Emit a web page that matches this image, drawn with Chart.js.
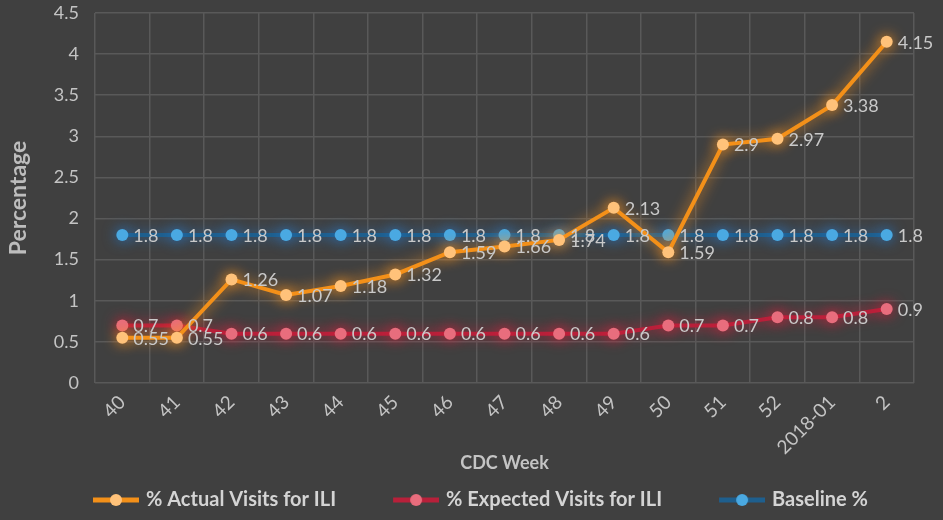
<!DOCTYPE html>
<html>
<head>
<meta charset="utf-8">
<script src="https://cdn.jsdelivr.net/npm/chart.js@4"></script>
<style>
  html, body { margin: 0; padding: 0; background: #404040; }
  #wrap { width: 943px; height: 520px; }
</style>
</head>
<body>
<div id="wrap"><canvas id="myChart"></canvas></div>
<script>
var weeks = ["40", "41", "42", "43", "44", "45", "46", "47", "48", "49", "50", "51", "52", "2018-01", "2"];
var actualVisits = [0.55, 0.55, 1.26, 1.07, 1.18, 1.32, 1.59, 1.66, 1.74, 2.13, 1.59, 2.9, 2.97, 3.38, 4.15];
var expectedVisits = [0.7, 0.7, 0.6, 0.6, 0.6, 0.6, 0.6, 0.6, 0.6, 0.6, 0.7, 0.7, 0.8, 0.8, 0.9];
var baseline = [1.8, 1.8, 1.8, 1.8, 1.8, 1.8, 1.8, 1.8, 1.8, 1.8, 1.8, 1.8, 1.8, 1.8, 1.8];

var fam = "Lato, 'Liberation Sans', sans-serif";
var textGray = "#c9c9c9";

// legend symbol: blank lead + line with a dot
function legendIcon(lineColor, dotColor){
  var c = document.createElement("canvas");
  c.width = 96; c.height = 20;
  var g = c.getContext("2d");
  g.strokeStyle = lineColor;
  g.lineWidth = 5;
  g.beginPath(); g.moveTo(50, 10); g.lineTo(96, 10); g.stroke();
  g.fillStyle = dotColor;
  g.beginPath(); g.arc(73, 10, 6, 0, Math.PI * 2); g.fill();
  return c;
}
var icons = [
  legendIcon("#f39019", "#ffc27a"),
  legendIcon("#b8203a", "#e86d7d"),
  legendIcon("#1e5f8e", "#4aa9e2")
];

var glowPlugin = {
  id: "glow",
  beforeDatasetDraw: function(chart, args){
    var ctx = chart.ctx;
    ctx.save();
    ctx.shadowColor = chart.data.datasets[args.index].glow;
    ctx.shadowBlur = 14;
  },
  afterDatasetDraw: function(chart){
    chart.ctx.restore();
  }
};

var valueLabels = {
  id: "valueLabels",
  afterDatasetsDraw: function(chart){
    var ctx = chart.ctx;
    ctx.save();
    ctx.font = "18px " + fam;
    ctx.fillStyle = textGray;
    ctx.textAlign = "left";
    ctx.textBaseline = "middle";
    chart.data.datasets.forEach(function(ds, i){
      var meta = chart.getDatasetMeta(i);
      meta.data.forEach(function(pt, j){
        ctx.fillText(String(ds.data[j]), pt.x + 11, pt.y + 1);
      });
    });
    ctx.restore();
  }
};

var ctx = document.getElementById("myChart").getContext("2d");
var myChart = new Chart(ctx, {
  type: "line",
  data: {
    labels: weeks,
    datasets: [{
      label: "% Actual Visits for ILI",
      data: actualVisits,
      borderColor: "#f39019",
      backgroundColor: "#ffc27a",
      pointBackgroundColor: "#ffc27a",
      glow: "rgba(255,150,30,0.95)",
      borderWidth: 4,
      pointRadius: 6,
      pointBorderWidth: 0,
      tension: 0
    }, {
      label: "% Expected Visits for ILI",
      data: expectedVisits,
      borderColor: "#b8203a",
      backgroundColor: "#e86d7d",
      pointBackgroundColor: "#e86d7d",
      glow: "rgba(220,30,60,0.95)",
      borderWidth: 4,
      pointRadius: 6,
      pointBorderWidth: 0,
      tension: 0
    }, {
      label: "Baseline %",
      data: baseline,
      borderColor: "#1e5f8e",
      backgroundColor: "#4aa9e2",
      pointBackgroundColor: "#4aa9e2",
      glow: "rgba(40,120,200,0.95)",
      borderWidth: 4,
      pointRadius: 6,
      pointBorderWidth: 0,
      tension: 0
    }]
  },
  options: {
    responsive: true,
    maintainAspectRatio: false,
    animation: false,
    layout: { padding: { top: 13, right: 29, left: 0, bottom: 0 } },
    scales: {
      x: {
        offset: true,
        grid: { offset: true, color: "#595959", lineWidth: 1.5, drawTicks: false },
        border: { display: false },
        ticks: {
          color: "#c4c4c4",
          font: { family: fam, size: 19 },
          autoSkip: false,
          maxRotation: 45,
          minRotation: 45,
          padding: 8
        },
        title: {
          display: true,
          text: "CDC Week",
          color: "#c4c4c4",
          font: { family: fam, size: 18, weight: "bold" },
          padding: { top: 0, bottom: 6 }
        },
        afterFit: function(scale){
          scale.height = 97;
          scale.paddingLeft = 0; scale.paddingRight = 0;
        }
      },
      y: {
        min: 0,
        max: 4.5,
        grid: { color: "#595959", lineWidth: 1.5, drawTicks: false },
        border: { display: false },
        ticks: {
          stepSize: 0.5,
          color: "#c4c4c4",
          font: { family: fam, size: 18 },
          padding: 16,
          callback: function(v){ return String(v); }
        },
        title: {
          display: true,
          text: "Percentage",
          color: "#bdbdbd",
          font: { family: fam, size: 23, weight: "bold" },
          padding: { top: 5, bottom: 0 }
        },
        afterFit: function(scale){
          scale.width = 95;
          scale.paddingTop = 0; scale.paddingBottom = 0;
        }
      }
    },
    plugins: {
      tooltip: { enabled: false },
      legend: {
        position: "bottom",
        labels: {
          color: "#d4d4d4",
          font: { family: fam, size: 20, weight: "bold" },
          usePointStyle: true,
          pointStyleWidth: 90,
          padding: 10,
          generateLabels: function(chart){
            var items = Chart.defaults.plugins.legend.labels.generateLabels(chart);
            items.forEach(function(it, i){ it.pointStyle = icons[i]; });
            return items;
          }
        }
      }
    }
  },
  plugins: [glowPlugin, valueLabels]
});
</script>
</body>
</html>
